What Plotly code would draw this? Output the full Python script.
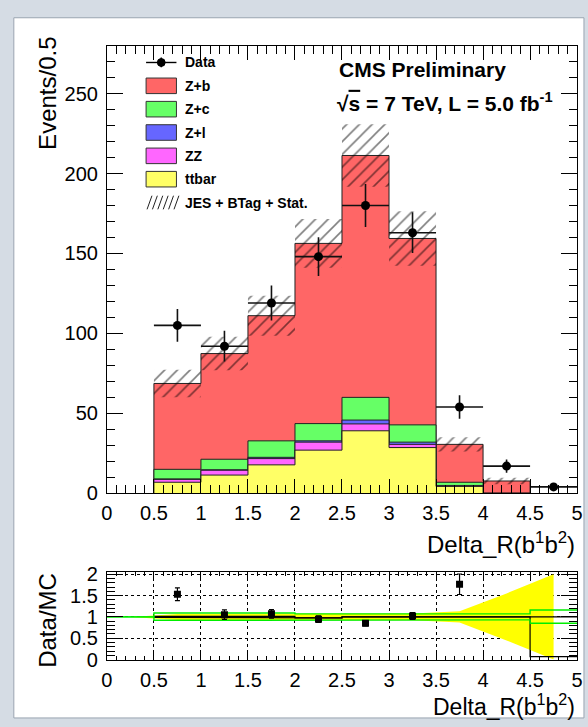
import math
import plotly.graph_objects as go

# ---------------------------------------------------------------------------
# Binning: Delta_R(b1 b2), 0.5 wide bins from 0.5 to 5.0
# ---------------------------------------------------------------------------
bin_lo = [0.5, 1.0, 1.5, 2.0, 2.5, 3.0, 3.5, 4.0, 4.5]
bin_w = 0.5

# Stacked MC contributions (events / 0.5)
ttbar = [6.9, 11.4, 17.8, 27.0, 39.1, 28.6, 4.3, 0.0, 0.0]
zz    = [1.8, 3.0, 3.9, 5.0, 4.3, 2.0, 0.4, 0.0, 0.0]
zl    = [0.3, 0.3, 0.8, 0.8, 2.4, 1.4, 0.2, 0.0, 0.0]
zc    = [6.0, 6.6, 10.3, 10.8, 14.2, 10.8, 2.0, 0.0, 0.0]
zb    = [53.7, 66.1, 78.3, 112.7, 151.3, 116.6, 23.7, 7.7, 0.0]

# JES + BTag + Stat. uncertainty on the MC total (half width)
mc_unc = [8.6, 10.5, 12.5, 15.2, 19.5, 17.0, 4.5, 2.0, 0.0]

# Observed data
data = [105, 92, 119, 148, 180, 163, 54, 17, 4]

# Ratio panel: MC uncertainty band (points at bin centres, half widths)
band_x = [0.25, 0.75, 1.25, 1.75, 2.25, 2.75, 3.25, 3.75, 4.25, 4.75]
band_hw = [0.0, 0.07, 0.07, 0.07, 0.08, 0.08, 0.08, 0.13, 0.55, 1.0]

# Ratio panel: green systematic envelope, bins from 0.0 to 5.0
env_lo_edges = [0.0, 0.5, 1.0, 1.5, 2.0, 2.5, 3.0, 3.5, 4.0, 4.5]
env_hi = [1.0, 1.09, 1.09, 1.09, 1.07, 1.07, 1.07, 1.07, 1.07, 1.16]
env_lo = [1.0, 0.92, 0.92, 0.92, 0.93, 0.93, 0.93, 0.93, 0.93, 0.85]

# Ratio panel: MC/MC box (black), bins from 0.5 to 5.0
box_hi = [1.012, 1.012, 1.012, 0.975, 1.0, 1.012, 1.0, 1.0, 1.0]
box_lo = [0.988, 0.988, 0.988, 0.975, 1.0, 0.99, 1.0, 1.0, 0.07]

labels = ["Data", "Z+b", "Z+c", "Z+l", "ZZ", "ttbar", "JES + BTag + Stat."]
colors = {"Z+b": "#ff6666", "Z+c": "#66ff66", "Z+l": "#6666ff",
          "ZZ": "#ff66ff", "ttbar": "#ffff66"}

Y_MAX = 279.8
R_MAX = 2.05
W, H = 588, 727

FONT = "Liberation Sans"


def px(x):
    return x / W


def py(y):
    return 1 - y / H


def step_path(los, vals, width, close_to_zero=False):
    xs, ys = [], []
    if close_to_zero:
        xs.append(los[0]); ys.append(0.0)
    for lo, v in zip(los, vals):
        xs += [lo, lo + width]
        ys += [v, v]
    if close_to_zero:
        xs.append(los[-1] + width); ys.append(0.0)
    return xs, ys


fig = go.Figure()

# --- cumulative stack, drawn from the top layer down ----------------------
layers = [("ttbar", ttbar), ("ZZ", zz), ("Z+l", zl), ("Z+c", zc), ("Z+b", zb)]
cum = []
run = [0.0] * len(bin_lo)
for name, vals in layers:
    run = [a + b for a, b in zip(run, vals)]
    cum.append((name, list(run)))

total = cum[-1][1]
nz = [i for i, t in enumerate(total) if t > 0]
last = nz[-1] + 1

for name, vals in reversed(cum):
    xs, ys = step_path(bin_lo[:last], vals[:last], bin_w, close_to_zero=True)
    fig.add_trace(go.Scatter(
        x=xs, y=ys, mode="lines", fill="toself",
        fillcolor=colors[name], line=dict(color="#222222", width=1),
        hoverinfo="skip", showlegend=False, xaxis="x", yaxis="y"))

# --- hatched uncertainty band ---------------------------------------------
hx, hy = [], []
for lo, t, e in zip(bin_lo, total, mc_unc):
    if t <= 0:
        continue
    hx += [lo, lo + bin_w, lo + bin_w, lo, lo, None]
    hy += [t - e, t - e, t + e, t + e, t - e, None]
fig.add_trace(go.Scatter(
    x=hx, y=hy, mode="lines", fill="toself", line=dict(width=0),
    fillcolor="rgba(0,0,0,0)",
    fillpattern=dict(shape="/", fgcolor="black", bgcolor="rgba(0,0,0,0)",
                     size=9, solidity=0.18),
    hoverinfo="skip", showlegend=False, xaxis="x", yaxis="y"))

# --- data points -----------------------------------------------------------
centres = [lo + bin_w / 2 for lo in bin_lo]
fig.add_trace(go.Scatter(
    x=centres, y=data, mode="markers",
    marker=dict(color="black", size=9, symbol="circle"),
    error_y=dict(type="data", array=[math.sqrt(d) for d in data],
                 color="#111111", thickness=1.6, width=0),
    error_x=dict(type="constant", value=bin_w / 2, color="#111111",
                 thickness=1.6, width=0),
    hoverinfo="skip", showlegend=False, xaxis="x", yaxis="y"))

# --- ratio panel -----------------------------------------------------------
# yellow MC band
bx = band_x + band_x[::-1]
by = [1 + h for h in band_hw] + [1 - h for h in band_hw[::-1]]
fig.add_trace(go.Scatter(
    x=bx, y=by, mode="lines", fill="toself", fillcolor="#ffff00",
    line=dict(width=0), hoverinfo="skip", showlegend=False,
    xaxis="x2", yaxis="y2"))

# black MC/MC box
for arr in (box_hi, box_lo):
    xs, ys = step_path(bin_lo, arr, bin_w)
    fig.add_trace(go.Scatter(
        x=xs, y=ys, mode="lines", line=dict(color="black", width=1.2),
        hoverinfo="skip", showlegend=False, xaxis="x2", yaxis="y2"))

# green envelope
for arr in (env_hi, env_lo):
    xs, ys = step_path(env_lo_edges, arr, bin_w)
    fig.add_trace(go.Scatter(
        x=xs, y=ys, mode="lines", line=dict(color="#00ee00", width=1.4),
        hoverinfo="skip", showlegend=False, xaxis="x2", yaxis="y2"))

# data / MC points
rx, ry, re = [], [], []
for c, d, t in zip(centres, data, total):
    if t <= 0:
        continue
    r = d / t
    if r > R_MAX:
        continue
    rx.append(c); ry.append(r); re.append(math.sqrt(d) / t)
fig.add_trace(go.Scatter(
    x=rx, y=ry, mode="markers",
    marker=dict(color="black", size=7, symbol="square"),
    error_y=dict(type="data", array=re, color="black", thickness=1.2, width=2.5),
    hoverinfo="skip", showlegend=False, xaxis="x2", yaxis="y2"))

# --- axes ------------------------------------------------------------------
tickfont = dict(family=FONT, size=20, color="black")


def xaxis_cfg(domain_y_anchor, major_len, minor_len, grid=False):
    return dict(
        domain=[px(103), px(583)], range=[0, 5], anchor=domain_y_anchor,
        tickmode="linear", tick0=0, dtick=0.5,
        ticks="inside", ticklen=major_len, tickwidth=1, tickcolor="black",
        minor=dict(ticks="inside", ticklen=minor_len, dtick=0.1, tick0=0,
                   tickcolor="black", showgrid=False),
        showline=True, linecolor="black", linewidth=1, mirror="ticks",
        showgrid=grid, gridcolor="black", griddash="dot", gridwidth=1,
        zeroline=False, tickfont=tickfont, ticklabelstandoff=2,
        ticklabeloverflow="allow")


fig.update_layout(
    width=W, height=H, margin=dict(l=0, r=0, t=0, b=0),
    paper_bgcolor="#d5dce4", plot_bgcolor="white",
    xaxis=xaxis_cfg("y", 14, 8),
    yaxis=dict(
        domain=[py(498), py(38)], range=[0, Y_MAX], anchor="x",
        tickmode="linear", tick0=0, dtick=50,
        ticks="inside", ticklen=16, tickwidth=1, tickcolor="black",
        minor=dict(ticks="inside", ticklen=8, dtick=10, tick0=0,
                   tickcolor="black", showgrid=False),
        showline=True, linecolor="black", linewidth=1, mirror="ticks",
        showgrid=False, zeroline=False, tickfont=tickfont,
        ticklabelstandoff=4, ticklabeloverflow="allow"),
    xaxis2=xaxis_cfg("y2", 7, 4, grid=True),
    yaxis2=dict(
        domain=[py(669), py(579)], range=[0, R_MAX], anchor="x2",
        tickmode="array", tickvals=[0, 0.5, 1, 1.5, 2],
        ticktext=["0", "0.5", "1", "1.5", "2"],
        ticks="inside", ticklen=16, tickwidth=1, tickcolor="black",
        minor=dict(ticks="inside", ticklen=8, dtick=0.1, tick0=0,
                   tickcolor="black", showgrid=False),
        showline=True, linecolor="black", linewidth=1, mirror="ticks",
        showgrid=True, gridcolor="black", griddash="dot", gridwidth=1,
        zeroline=False, tickfont=tickfont, ticklabelstandoff=4,
        ticklabeloverflow="allow"),
)

# --- white canvas ----------------------------------------------------------
shapes = [dict(type="rect", xref="paper", yref="paper", layer="below",
               x0=px(8), x1=px(W + 2), y0=py(H + 2), y1=py(9),
               fillcolor="white", line=dict(color="#9aa4b0", width=1))]

# --- legend ----------------------------------------------------------------
leg_x0, leg_x1 = 143, 174
leg_rows = [55, 79, 103, 127, 151, 175, 199]
annotations = []
# data entry
shapes.append(dict(type="line", xref="paper", yref="paper",
                   x0=px(leg_x0), x1=px(leg_x1), y0=py(leg_rows[0]), y1=py(leg_rows[0]),
                   line=dict(color="black", width=1.4)))
shapes.append(dict(type="line", xref="paper", yref="paper",
                   x0=px(158.5), x1=px(158.5), y0=py(leg_rows[0] - 5), y1=py(leg_rows[0] + 5),
                   line=dict(color="black", width=1.4)))
shapes.append(dict(type="circle", xref="paper", yref="paper",
                   x0=px(154.5), x1=px(162.5), y0=py(leg_rows[0] + 4), y1=py(leg_rows[0] - 4),
                   fillcolor="black", line=dict(color="black", width=1)))
for name, yc in zip(labels[1:6], leg_rows[1:6]):
    shapes.append(dict(type="rect", xref="paper", yref="paper",
                       x0=px(leg_x0), x1=px(leg_x1), y0=py(yc + 8), y1=py(yc - 8),
                       fillcolor=colors[name], line=dict(color="#333333", width=1)))
# hatch entry
yc = leg_rows[6]
path = ""
for i in range(6):
    xa = leg_x0 + 1 + i * 5.5
    path += f"M{px(xa)},{py(yc + 7)} L{px(xa + 5)},{py(yc - 7)} "
shapes.append(dict(type="path", xref="paper", yref="paper", path=path,
                   line=dict(color="#222222", width=1)))

for name, yc in zip(labels, leg_rows):
    annotations.append(dict(
        xref="paper", yref="paper", x=px(181), y=py(yc), xanchor="left",
        yanchor="middle", showarrow=False, text=f"<b>{name}</b>",
        font=dict(family=FONT, size=14, color="black")))

# --- titles & labels -------------------------------------------------------
annotations += [
    dict(xref="paper", yref="paper", x=px(338), y=py(62), xanchor="left",
         yanchor="middle", showarrow=False, text="<b>CMS Preliminary</b>",
         font=dict(family=FONT, size=21, color="black")),
    dict(xref="paper", yref="paper", x=px(336), y=py(96), xanchor="left",
         yanchor="middle", showarrow=False,
         text="<b>√<span style='text-decoration:overline'>s</span> = 7 TeV, L = 5.0 fb<sup>-1</sup></b>",
         font=dict(family=FONT, size=21, color="black")),
    dict(xref="paper", yref="paper", x=px(583), y=py(549), xanchor="right",
         yanchor="middle", showarrow=False,
         text="Delta_R(b<sup>1</sup>b<sup>2</sup>)",
         font=dict(family=FONT, size=24, color="black")),
    dict(xref="paper", yref="paper", x=px(583), y=py(716), xanchor="right",
         yanchor="middle", showarrow=False,
         text="Delta_R(b<sup>1</sup>b<sup>2</sup>)",
         font=dict(family=FONT, size=23, color="black")),
    dict(xref="paper", yref="paper", x=px(43), y=py(27), xanchor="center",
         yanchor="top", showarrow=False, textangle=-90, text="Events/0.5",
         font=dict(family=FONT, size=24, color="black")),
    dict(xref="paper", yref="paper", x=px(43), y=py(629), xanchor="center",
         yanchor="middle", showarrow=False, textangle=-90, text="Data/MC",
         font=dict(family=FONT, size=24, color="black")),
]

fig.update_layout(shapes=shapes, annotations=annotations)
fig.write_html("out.html")
